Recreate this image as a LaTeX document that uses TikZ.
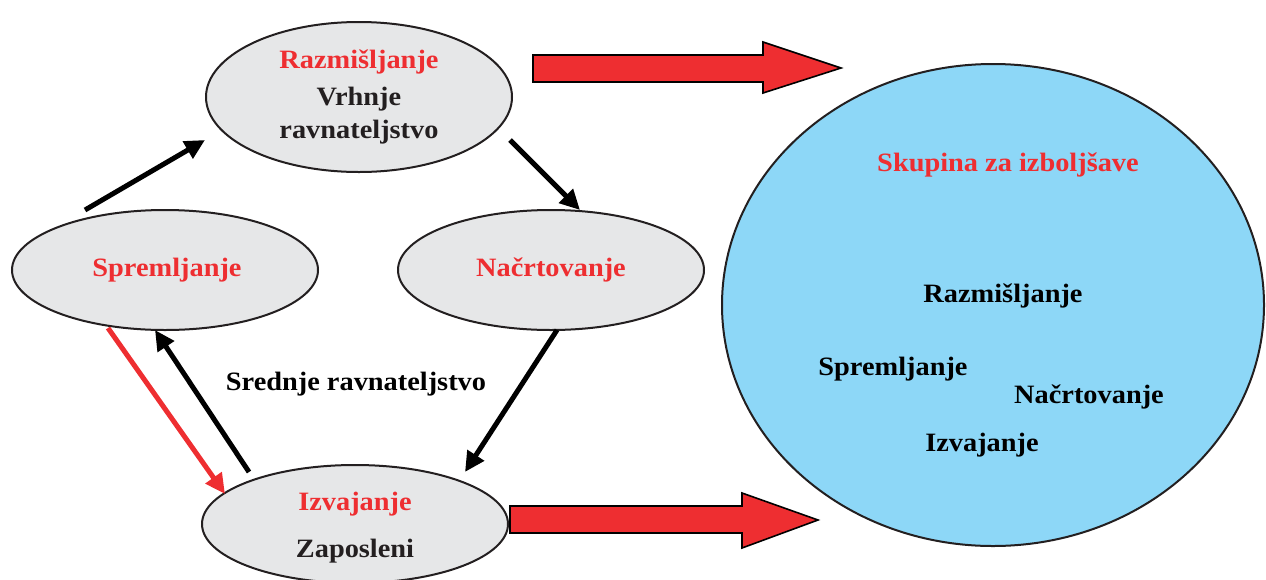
\documentclass[tikz,border=0pt]{standalone}
\usepackage{fontspec}
\setmainfont{Liberation Serif}[FakeStretch=1.07]
\usetikzlibrary{shapes.geometric,arrows.meta}
\definecolor{rd}{HTML}{EE2E31}
\definecolor{ellfill}{HTML}{E6E7E8}
\definecolor{bluefill}{HTML}{8DD7F7}
\definecolor{txt}{HTML}{231F20}
\tikzset{
  ell/.style={ellipse, draw=txt, line width=2pt, fill=ellfill, inner sep=0pt},
  lbl/.style={font=\bfseries\fontsize{26.5}{30}\selectfont, text=txt, anchor=base, inner sep=0pt},
  rlbl/.style={lbl, text=rd},
  flow/.style={line width=5pt, draw=black, -{Triangle[length=20pt,width=19pt]}},
  rflow/.style={line width=5pt, draw=rd, -{Triangle[length=20pt,width=19pt]}},
  blockarrow/.style={fill=rd, draw=black, line width=1.6pt, line join=miter},
}
\begin{document}
\begin{tikzpicture}[x=1pt,y=-1pt]
\useasboundingbox (0,0) rectangle (1266,579);
% ellipses
\node[ell, minimum width=306pt, minimum height=150pt] (raz) at (359,97) {};
\node[ell, minimum width=306pt, minimum height=120pt] (spr) at (165,270) {};
\node[ell, minimum width=306pt, minimum height=120pt] (nac) at (551,270) {};
\node[ell, minimum width=306pt, minimum height=118pt] (izv) at (355,524) {};
\node[ellipse, draw=txt, line width=2pt, fill=bluefill, minimum width=542pt, minimum height=482pt, inner sep=0pt] (sk) at (993,305) {};
% texts
\node[rlbl] (t1) at (359,68) {Razmišljanje};
\node[lbl] (t2) at (359,105) {Vrhnje};
\node[lbl] (t3) at (359,138) {ravnateljstvo};
\node[rlbl] (t4) at (167,276) {Spremljanje};
\node[rlbl] (t5) at (551,276) {Načrtovanje};
\node[lbl, text=black] (t6) at (356,390) {Srednje ravnateljstvo};
\node[rlbl] (t7) at (355,510) {Izvajanje};
\node[lbl] (t8) at (355,557) {Zaposleni};
\node[rlbl] (t9) at (1008,171) {Skupina za izboljšave};
\node[lbl, text=black] (t10) at (1003,302) {Razmišljanje};
\node[lbl, text=black] (t11) at (893,375) {Spremljanje};
\node[lbl, text=black] (t12) at (1089,403) {Načrtovanje};
\node[lbl, text=black] (t13) at (982,451) {Izvajanje};
% connector end points
\coordinate (a1s) at (85,210);  \coordinate (a1e) at (205,140);
\coordinate (a2s) at (510,140); \coordinate (a2e) at (580,210);
\coordinate (a3s) at (557,330); \coordinate (a3e) at (465,472);
\coordinate (a4s) at (249,472); \coordinate (a4e) at (155,330);
\coordinate (a5s) at (108,328); \coordinate (a5e) at (225,494);
\draw[flow] (a1s) -- (a1e);
\draw[flow] (a2s) -- (a2e);
\draw[flow] (a3s) -- (a3e);
\draw[flow] (a4s) -- (a4e);
\draw[rflow] (a5s) -- (a5e);
% block arrows
\draw[blockarrow] (533,55) -- (763,55) -- (763,42) -- (841,68) -- (763,93) -- (763,82) -- (533,82) -- cycle;
\draw[blockarrow] (510,506) -- (742,506) -- (742,493) -- (818,520) -- (742,548) -- (742,533) -- (510,533) -- cycle;
\end{tikzpicture}
\end{document}
